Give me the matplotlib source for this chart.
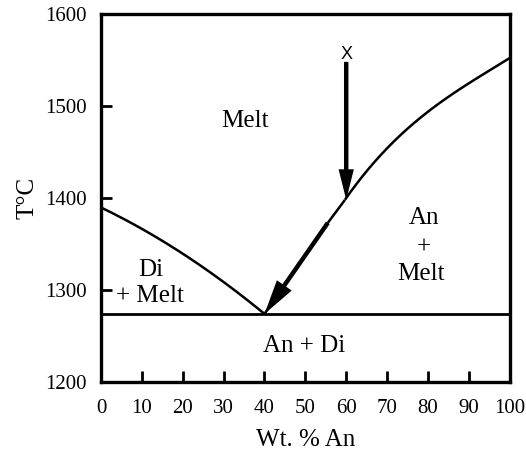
import matplotlib
matplotlib.use("Agg")
import matplotlib.pyplot as plt
import numpy as np

# Data
left_x = [0, 6.7, 14.8, 23.0, 31.1, 40.0]
left_T = [1390, 1374, 1354, 1331, 1305, 1274]
right_low_x = [40.0, 55.5, 59.7]
right_low_T = [1274, 1373, 1398]
right_x = [59.7, 66.6, 74.7, 82.9, 91.0, 100]
right_T = [1398, 1438, 1474, 1503, 1528, 1552]
eutectic_T = 1274
x_ticks = [0, 10, 20, 30, 40, 50, 60, 70, 80, 90, 100]
y_ticks = [1200, 1300, 1400, 1500, 1600]
bulk_x = 60
start_T = 1548
liq_T = 1398
arrow2_start = (55.5, 1373)
eutectic_pt = (40, 1274)

plt.rcParams['font.family'] = ['Liberation Serif', 'DejaVu Serif']

fig = plt.figure(figsize=(5.26, 4.54), dpi=100)
ax = fig.add_axes([0.192, 0.1586, 0.777, 0.8105])


def fitcurve(xs, ys, deg, n=200):
    c = np.polyfit(xs, ys, deg)
    t = np.linspace(xs[0], xs[-1], n)
    return t, np.polyval(c, t)


lx, ly = fitcurve(left_x, left_T, 2)
rx, ry = fitcurve(right_x, right_T, 3)
ax.plot(lx, ly, color='black', lw=1.8, solid_capstyle='butt')
ax.plot(right_low_x, right_low_T, color='black', lw=1.8, solid_capstyle='butt')
ax.plot(rx, ry, color='black', lw=1.8, solid_capstyle='butt')
ax.plot([0, 100], [eutectic_T, eutectic_T], color='black', lw=2.0)

ax.annotate('', xy=(bulk_x, liq_T), xytext=(bulk_x, start_T),
            arrowprops=dict(arrowstyle='simple,head_length=2.2,head_width=1.1,tail_width=0.32',
                            lw=0, color='black', shrinkA=0, shrinkB=0,
                            mutation_scale=10))
ax.annotate('', xy=eutectic_pt, xytext=arrow2_start,
            arrowprops=dict(arrowstyle='simple,head_length=2.5,head_width=1.3,tail_width=0.32',
                            lw=0, color='black', shrinkA=0, shrinkB=0,
                            mutation_scale=10))

ax.text(bulk_x, 1556, 'X', fontsize=13, family=['Liberation Sans', 'DejaVu Sans'],
        ha='center', va='center')

fs = 18
ax.text(35.2, 1484, 'Melt', fontsize=fs, ha='center', va='center')
ax.text(12.3, 1322, 'Di', fontsize=fs, ha='center', va='center')
ax.text(12.0, 1294, '+ Melt', fontsize=fs, ha='center', va='center')
ax.text(79, 1378, 'An', fontsize=fs, ha='center', va='center')
ax.text(79, 1346, '+', fontsize=fs, ha='center', va='center')
ax.text(78.3, 1317, 'Melt', fontsize=fs, ha='center', va='center')
ax.text(49.8, 1239, 'An + Di', fontsize=fs, ha='center', va='center')

ax.set_xlim(0, 100)
ax.set_ylim(1200, 1600)
ax.set_xticks(x_ticks)
ax.set_yticks(y_ticks)
ax.tick_params(axis='x', direction='in', length=8, width=2.0, labelsize=15, pad=12)
ax.tick_params(axis='y', direction='in', length=8, width=2.0, labelsize=15, pad=10)
for s in ax.spines.values():
    s.set_linewidth(2.4)
ax.set_xlabel('Wt. % An', fontsize=fs, labelpad=8)
ax.set_ylabel('T°C', fontsize=fs, labelpad=5)

fig.savefig('out.png', dpi=100)
